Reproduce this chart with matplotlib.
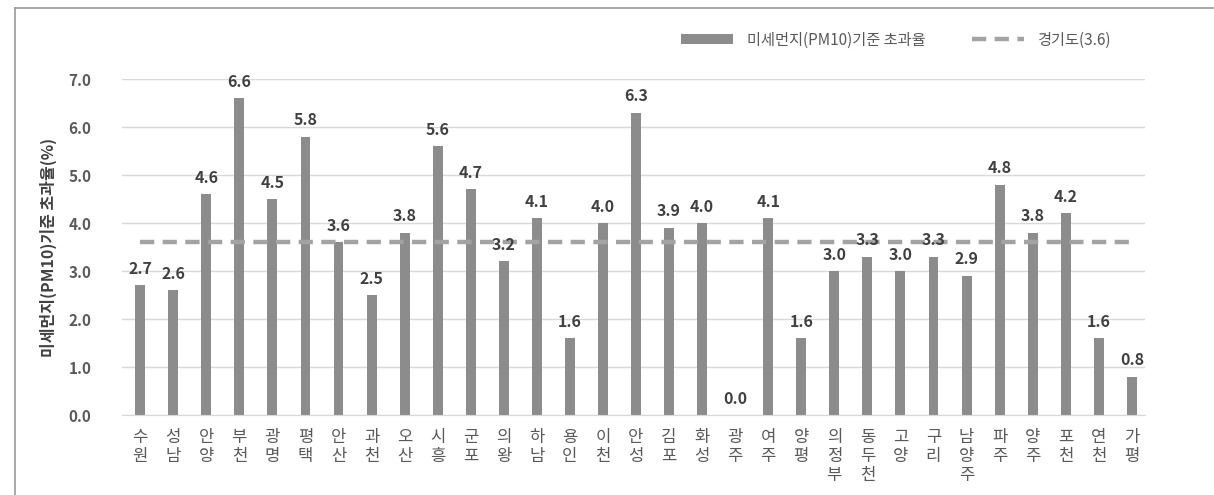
import matplotlib.pyplot as plt
from matplotlib.lines import Line2D

plt.rcParams['font.family'] = ['Noto Sans CJK KR', 'DejaVu Sans']

# 시군별 미세먼지(PM10) 기준 초과율
cities = ['수원', '성남', '안양', '부천', '광명', '평택', '안산', '과천', '오산', '시흥',
          '군포', '의왕', '하남', '용인', '이천', '안성', '김포', '화성', '광주', '여주',
          '양평', '의정부', '동두천', '고양', '구리', '남양주', '파주', '양주', '포천', '연천', '가평']
rates = [2.7, 2.6, 4.6, 6.6, 4.5, 5.8, 3.6, 2.5, 3.8, 5.6,
         4.7, 3.2, 4.1, 1.6, 4.0, 6.3, 3.9, 4.0, 0.0, 4.1,
         1.6, 3.0, 3.3, 3.0, 3.3, 2.9, 4.8, 3.8, 4.2, 1.6, 0.8]
gyeonggi_avg = 3.6
yticks = [0, 1, 2, 3, 4, 5, 6, 7]

fig = plt.figure(figsize=(12.14, 4.95), dpi=100)
ax = fig.add_axes([0.1005, 0.1616, 0.8427, 0.6788])

x = list(range(len(cities)))
bars = ax.bar(x, rates, width=0.3, color='#8c8c8c', zorder=2,
              label='미세먼지(PM10)기준 초과율')
avg_line, = ax.plot(x, [gyeonggi_avg] * len(x), color='#a3a3a3', lw=3.2, dashes=(3.2, 1.9),
                    zorder=3, label='경기도(3.6)')

for xi, v in zip(x, rates):
    ax.annotate(f'{v:.1f}', (xi, v), xytext=(0, 6), textcoords='offset points',
                ha='center', va='bottom', fontsize=11.5, fontweight='bold', color='#404040')

ax.set_ylim(0, 7)
ax.set_xlim(-0.55, 30.4)
ax.set_yticks(yticks)
ax.set_yticklabels([f'{t:.1f}' for t in yticks], fontsize=11, fontweight='bold', color='#595959')
ax.set_xticks(x)
ax.set_xticklabels(['\n'.join(c) for c in cities], fontsize=12, color='#595959',
                   va='top', linespacing=1.15)
ax.tick_params(length=0, pad=10)
ax.tick_params(axis='y', pad=22)
ax.grid(axis='y', color='#d9d9d9', lw=1, zorder=0)
for s in ['top', 'right', 'left']:
    ax.spines[s].set_visible(False)
ax.spines['bottom'].set_color('#d9d9d9')

ax.set_ylabel('미세먼지(PM10)기준 초과율(%)', fontsize=11.5, fontweight='bold', color='#404040',
              labelpad=8)

leg = ax.legend([bars, avg_line], ['미세먼지(PM10)기준 초과율', '경기도(3.6)'],
                loc='lower right', bbox_to_anchor=(0.98, 1.05), ncol=2, frameon=False,
                fontsize=11, handlelength=3.4, columnspacing=3.0, handletextpad=0.9,
                handleheight=0.55)
for t in leg.get_texts():
    t.set_color('#595959')

# 바깥 테두리 (왼쪽, 위쪽만 보임)
fig.add_artist(Line2D([15 / 1214, 15 / 1214], [0, 1 - 8 / 495], color='#999999', lw=1.2,
                      transform=fig.transFigure))
fig.add_artist(Line2D([15 / 1214, 1], [1 - 8 / 495, 1 - 8 / 495], color='#999999', lw=1.2,
                      transform=fig.transFigure))

fig.savefig('out.png', dpi=100)
